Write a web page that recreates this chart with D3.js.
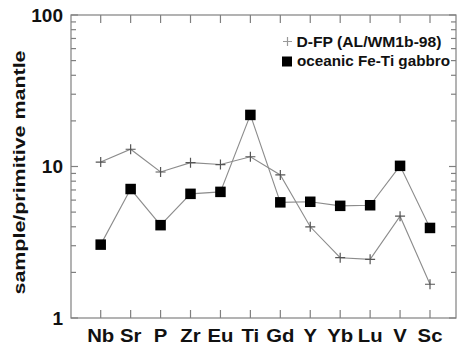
<!DOCTYPE html>
<html>
<head>
<meta charset="utf-8">
<script src="https://cdn.jsdelivr.net/npm/d3@7"></script>
<style>
  html, body { margin: 0; padding: 0; background: #fff; }
  text { font-family: "Liberation Sans", Arial, sans-serif; font-weight: bold; fill: #111; }
</style>
</head>
<body>
<div id="chart"></div>
<script>
// elements on the x axis
const elements = ['Nb', 'Sr', 'P', 'Zr', 'Eu', 'Ti', 'Gd', 'Y', 'Yb', 'Lu', 'V', 'Sc'];

// D-FP (AL/WM1b-98)
const dfpValues = [10.7, 13.0, 9.2, 10.6, 10.3, 11.6, 8.8, 4.0, 2.5, 2.44, 4.7, 1.67];

// oceanic Fe-Ti gabbro
const gabbroValues = [3.05, 7.1, 4.1, 6.6, 6.8, 21.9, 5.8, 5.85, 5.5, 5.55, 10.1, 3.93];

const yTickValues = [1, 10, 100];
const seriesNames = ['D-FP (AL/WM1b-98)', 'oceanic Fe-Ti gabbro'];

const width = 460, height = 347;
const box = { left: 71, right: 456, top: 15, bottom: 318 };

const svg = d3.select('#chart').append('svg')
    .attr('width', width)
    .attr('height', height);

const x = d3.scalePoint()
    .domain(elements)
    .range([100.7, 430]);

const y = d3.scaleLog()
    .domain([1, 100])
    .range([box.bottom, box.top]);

const axisColor = '#808080';

// frame
svg.append('rect')
    .attr('x', box.left)
    .attr('y', box.top)
    .attr('width', box.right - box.left)
    .attr('height', box.bottom - box.top)
    .attr('fill', 'none')
    .attr('stroke', axisColor)
    .attr('stroke-width', 1.2);

// minor + major ticks on left and right
const allY = [];
for (let d = 1; d < 100; d *= 10) {
    for (let k = 1; k <= 9; k++) allY.push(d * k);
}
allY.push(100);

const yTicks = svg.append('g');
yTicks.selectAll('line.left')
    .data(allY)
    .join('line')
    .attr('class', 'left')
    .attr('x1', box.left)
    .attr('x2', d => box.left + (yTickValues.includes(d) ? 7 : 5))
    .attr('y1', d => y(d))
    .attr('y2', d => y(d))
    .attr('stroke', axisColor)
    .attr('stroke-width', 1.2);
yTicks.selectAll('line.right')
    .data(allY)
    .join('line')
    .attr('class', 'right')
    .attr('x1', box.right)
    .attr('x2', d => box.right - (yTickValues.includes(d) ? 7 : 5))
    .attr('y1', d => y(d))
    .attr('y2', d => y(d))
    .attr('stroke', axisColor)
    .attr('stroke-width', 1.2);

// y tick labels
svg.append('g')
    .selectAll('text')
    .data(yTickValues)
    .join('text')
    .attr('x', 63)
    .attr('y', d => y(d))
    .attr('dy', '0.36em')
    .attr('text-anchor', 'end')
    .attr('font-size', 19)
    .text(d => d);

// x ticks top and bottom
const xTicks = svg.append('g');
xTicks.selectAll('line.bottom')
    .data(elements)
    .join('line')
    .attr('class', 'bottom')
    .attr('x1', d => x(d)).attr('x2', d => x(d))
    .attr('y1', box.bottom).attr('y2', box.bottom - 8)
    .attr('stroke', axisColor).attr('stroke-width', 1.2);
xTicks.selectAll('line.top')
    .data(elements)
    .join('line')
    .attr('class', 'top')
    .attr('x1', d => x(d)).attr('x2', d => x(d))
    .attr('y1', box.top).attr('y2', box.top + 8)
    .attr('stroke', axisColor).attr('stroke-width', 1.2);

// x labels (slightly wide, like the original bitmap font)
svg.append('g')
    .selectAll('text')
    .data(elements)
    .join('text')
    .attr('transform', d => `translate(${x(d)},342) scale(1.13,1)`)
    .attr('text-anchor', 'middle')
    .attr('font-size', 18)
    .text(d => d);

// y title
svg.append('text')
    .attr('transform', 'translate(24.5,172.5) rotate(-90)')
    .attr('text-anchor', 'middle')
    .attr('font-size', 16)
    .attr('textLength', 244)
    .attr('lengthAdjust', 'spacingAndGlyphs')
    .text('sample/primitive mantle');

const line = d3.line()
    .x((d, i) => x(elements[i]))
    .y(d => y(d));

const lineColor = '#8c8c8c';

svg.append('path')
    .datum(dfpValues)
    .attr('d', line)
    .attr('fill', 'none')
    .attr('stroke', lineColor)
    .attr('stroke-width', 1.1);

svg.append('path')
    .datum(gabbroValues)
    .attr('d', line)
    .attr('fill', 'none')
    .attr('stroke', lineColor)
    .attr('stroke-width', 1.1);

// plus markers
const plusSize = 5;
const plusPath = `M${-plusSize},0H${plusSize}M0,${-plusSize}V${plusSize}`;
svg.append('g')
    .selectAll('path')
    .data(dfpValues)
    .join('path')
    .attr('transform', (d, i) => `translate(${x(elements[i])},${y(d)})`)
    .attr('d', plusPath)
    .attr('stroke', '#555')
    .attr('stroke-width', 1.2)
    .attr('fill', 'none');

// square markers
const sq = 10.5;
svg.append('g')
    .selectAll('rect')
    .data(gabbroValues)
    .join('rect')
    .attr('x', (d, i) => x(elements[i]) - sq / 2)
    .attr('y', d => y(d) - sq / 2)
    .attr('width', sq)
    .attr('height', sq)
    .attr('fill', '#000');

// legend
const legend = svg.append('g').attr('transform', 'translate(287,0)');
legend.append('path')
    .attr('transform', 'translate(0.5,41.5)')
    .attr('d', `M-4.5,0H4.5M0,-4.5V4.5`)
    .attr('stroke', '#999')
    .attr('stroke-width', 1.2);
legend.append('text')
    .attr('x', 9.5)
    .attr('y', 47)
    .attr('font-size', 14.5)
    .attr('textLength', 145)
    .attr('lengthAdjust', 'spacingAndGlyphs')
    .text(seriesNames[0]);
legend.append('rect')
    .attr('x', -5)
    .attr('y', 56.5)
    .attr('width', 10)
    .attr('height', 10)
    .attr('fill', '#000');
legend.append('text')
    .attr('x', 10)
    .attr('y', 66)
    .attr('font-size', 14.5)
    .attr('textLength', 153)
    .attr('lengthAdjust', 'spacingAndGlyphs')
    .text(seriesNames[1]);
</script>
</body>
</html>
